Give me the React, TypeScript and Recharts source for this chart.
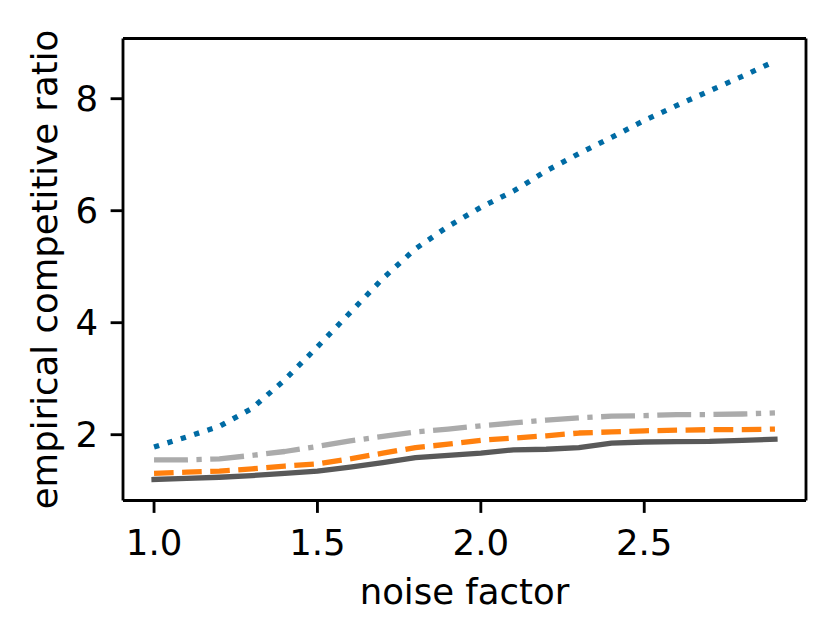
import { LineChart, Line, XAxis, YAxis, Label, ReferenceLine } from 'recharts';

// noise factor values on the x axis
const noiseFactors = [1.0, 1.1, 1.2, 1.3, 1.4, 1.5, 1.6, 1.7, 1.8, 1.9, 2.0, 2.1, 2.2, 2.3, 2.4, 2.5, 2.6, 2.7, 2.8, 2.9];

// empirical competitive ratio, one list per curve
const dottedBlue = [1.78, 1.96, 2.15, 2.47, 2.98, 3.57, 4.18, 4.79, 5.32, 5.72, 6.06, 6.35, 6.71, 7.02, 7.31, 7.61, 7.88, 8.14, 8.4, 8.67];
const dashedOrange = [1.31, 1.33, 1.35, 1.39, 1.44, 1.48, 1.57, 1.67, 1.77, 1.83, 1.9, 1.94, 1.98, 2.03, 2.05, 2.07, 2.08, 2.09, 2.09, 2.1];
const dashDotGray = [1.55, 1.55, 1.57, 1.63, 1.7, 1.79, 1.89, 1.97, 2.05, 2.1, 2.16, 2.21, 2.26, 2.3, 2.33, 2.34, 2.36, 2.36, 2.37, 2.39];
const solidDark = [1.2, 1.22, 1.24, 1.27, 1.31, 1.35, 1.42, 1.5, 1.59, 1.63, 1.67, 1.73, 1.74, 1.77, 1.85, 1.87, 1.875, 1.88, 1.9, 1.92];

const xTicks = [1.0, 1.5, 2.0, 2.5];
const yTicks = [2, 4, 6, 8];

const data = noiseFactors.map((x, i) => ({
  x,
  blue: dottedBlue[i],
  orange: dashedOrange[i],
  gray: dashDotGray[i],
  dark: solidDark[i],
}));

// matplotlib style sizes at this resolution (~3.55 px per pt)
const LW = 5.3;
const SPINE = 2.84;
const FONT = 35.5;
const FONT_FAMILY = '"DejaVu Sans", sans-serif';

const xDomain = [0.905, 2.995];
const yDomain = [0.825, 9.075];

const tickStyle = { fill: '#000', fontSize: FONT, fontFamily: FONT_FAMILY };

export default function App() {
  return (
    <div style={{ position: 'absolute', left: 0, top: 0, width: 832, height: 637, background: '#fff' }}>
      <LineChart
        width={832}
        height={637}
        data={data}
        margin={{ top: 38.5, right: 26, left: 23, bottom: 56.5 }}
      >
        <XAxis
          dataKey="x"
          type="number"
          domain={xDomain}
          allowDataOverflow
          ticks={xTicks}
          interval={0}
          tickFormatter={(v: number) => v.toFixed(1)}
          height={80}
          tickSize={12.4}
          tickMargin={17}
          axisLine={{ stroke: '#000', strokeWidth: SPINE }}
          tickLine={{ stroke: '#000', strokeWidth: SPINE }}
          tick={tickStyle}
        >
          <Label
            content={() => (
              <text x={464.5} y={604} textAnchor="middle" fontSize={FONT} fontFamily={FONT_FAMILY} fill="#000">
                noise factor
              </text>
            )}
          />
        </XAxis>
        <YAxis
          type="number"
          domain={yDomain}
          allowDataOverflow
          ticks={yTicks}
          interval={0}
          width={100}
          tickSize={12.4}
          tickMargin={12.4}
          axisLine={{ stroke: '#000', strokeWidth: SPINE }}
          tickLine={{ stroke: '#000', strokeWidth: SPINE }}
          tick={tickStyle}
        >
          <Label
            content={() => (
              <text
                x={57}
                y={269.5}
                transform="rotate(-90 57 269.5)"
                textAnchor="middle"
                fontSize={FONT}
                fontFamily={FONT_FAMILY}
                fill="#000"
              >
                empirical competitive ratio
              </text>
            )}
          />
        </YAxis>
        {/* top and right spines */}
        <ReferenceLine y={yDomain[1]} stroke="#000" strokeWidth={SPINE} />
        <ReferenceLine x={xDomain[1]} stroke="#000" strokeWidth={SPINE} />
        <Line
          dataKey="blue"
          type="linear"
          stroke="#006BA4"
          strokeWidth={LW}
          strokeDasharray="5.3 8.7"
          strokeLinecap="butt"
          strokeLinejoin="round"
          dot={false}
          activeDot={false}
          isAnimationActive={false}
        />
        <Line
          dataKey="orange"
          type="linear"
          stroke="#FF800E"
          strokeWidth={LW}
          strokeDasharray="19.6 8.5"
          strokeLinecap="butt"
          strokeLinejoin="round"
          dot={false}
          activeDot={false}
          isAnimationActive={false}
        />
        <Line
          dataKey="gray"
          type="linear"
          stroke="#ABABAB"
          strokeWidth={LW}
          strokeDasharray="33.9 8.5 5.3 8.5"
          strokeLinecap="butt"
          strokeLinejoin="round"
          dot={false}
          activeDot={false}
          isAnimationActive={false}
        />
        <Line
          dataKey="dark"
          type="linear"
          stroke="#595959"
          strokeWidth={LW}
          strokeLinecap="square"
          strokeLinejoin="round"
          dot={false}
          activeDot={false}
          isAnimationActive={false}
        />
      </LineChart>
    </div>
  );
}
